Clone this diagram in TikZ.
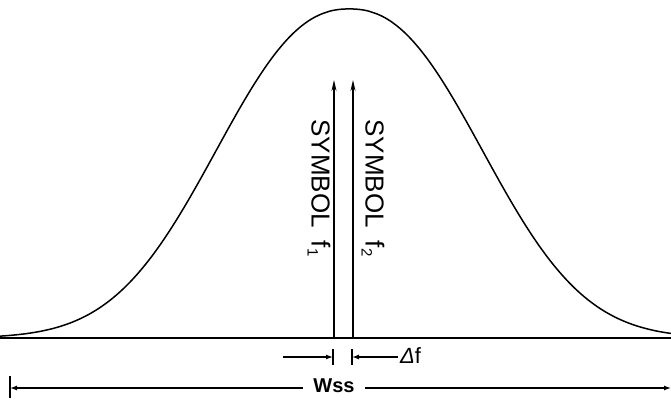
\documentclass[tikz,border=0pt]{standalone}
\usepackage{fontspec}
\setmainfont{Liberation Sans}
\usetikzlibrary{arrows.meta}
\tikzset{
  curve/.style={line width=1.5pt, line join=round},
  base/.style={line width=2.4pt},
  symarrow/.style={line width=1.3pt, -{Stealth[length=11pt,width=5pt]}},
  dimarrow/.style={line width=1.3pt, -{Latex[length=7pt,width=5pt]}},
  tick/.style={line width=1.3pt},
  symlabel/.style={rotate=-90, inner sep=0pt, font=\fontsize{26}{30}\selectfont},
}
\newcommand{\subdigit}[1]{\raisebox{-0.3ex}{\fontsize{15}{15}\selectfont #1}}
\begin{document}
\begin{tikzpicture}[x=1pt, y=-1pt]
\useasboundingbox (0,0) rectangle (671,403);
% baseline
\coordinate (bl) at (0,338);
\coordinate (br) at (671,338);
\draw[base] (bl) -- (br);
% bell curve
\draw[curve] plot[domain=0:671, samples=241, smooth]
  (\x, {338 - 329*exp(-((abs(\x-349.3)+0.01)/171)^2.3)});
% symbol arrows
\coordinate (f1b) at (334,338);
\coordinate (f1t) at (334,80);
\coordinate (f2b) at (353,338);
\coordinate (f2t) at (353,80);
\draw[symarrow] (f1b) -- (f1t);
\draw[symarrow] (f2b) -- (f2t);
\node[symlabel, anchor=center] (s1) at (319,188) {SYMBOL\hspace{0.5em}f\subdigit{1}};
\node[symlabel, anchor=center] (s2) at (373,188) {SYMBOL\hspace{0.5em}f\subdigit{2}};
% delta f dimension
\coordinate (t1a) at (333,349);
\coordinate (t1b) at (333,365);
\coordinate (t2a) at (352,349);
\coordinate (t2b) at (352,365);
\draw[tick] (t1a) -- (t1b);
\draw[tick] (t2a) -- (t2b);
\coordinate (t1m) at (333,357);
\coordinate (t2m) at (352,357);
\coordinate (dl) at (283,357);
\node[anchor=west, inner sep=0pt, font=\fontsize{22}{24}\selectfont] (df) at (400,356) {{\itshape Δ}f};
\draw[dimarrow] (dl) -- (t1m);
\draw[dimarrow] (df.west) ++(-2,1) coordinate (dr) (dr) -- (t2m);
% Wss dimension
\coordinate (wla) at (10,376);
\coordinate (wlb) at (10,398);
\draw[tick] (wla) -- (wlb);
\coordinate (wl) at (10,388);
\coordinate (wr) at (671,388);
\node[inner sep=0pt, font=\bfseries\fontsize{20}{22}\selectfont] (wss) at (334,386) {Wss};
\draw[dimarrow] ([xshift=-10pt]wss.west |- wl) -- (wl);
\draw[dimarrow] ([xshift=10pt]wss.east |- wr) -- (wr);
\end{tikzpicture}
\end{document}
